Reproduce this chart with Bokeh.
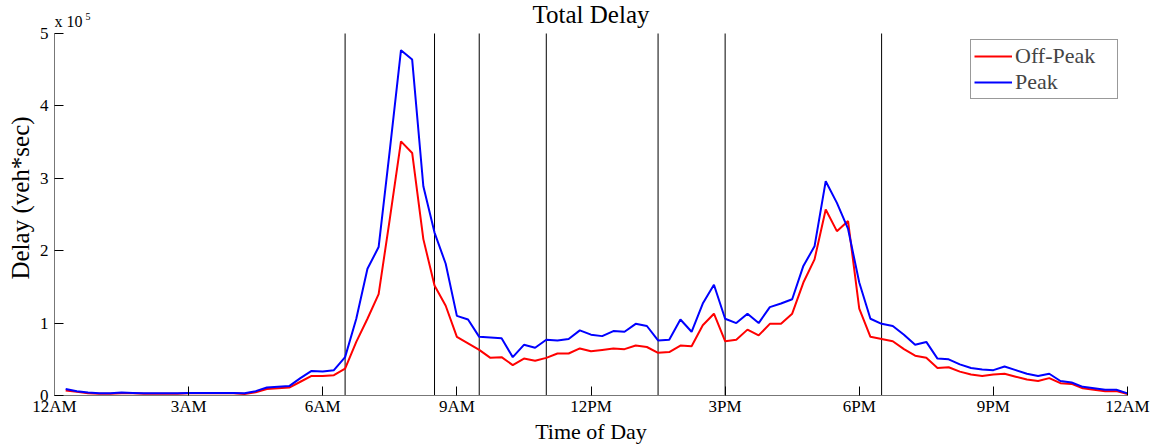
from bokeh.plotting import figure
from bokeh.models import Label, Legend, LegendItem, FixedTicker, CustomJSTickFormatter, ColumnDataSource
from bokeh.embed import file_html
from bokeh.resources import INLINE

hours = [0.25 * i for i in range(1, 97)]

peak = [0.09, 0.06, 0.04, 0.03, 0.03, 0.04, 0.035, 0.03, 0.03, 0.03, 0.03, 0.035,
        0.035, 0.035, 0.035, 0.035, 0.03, 0.06, 0.11, 0.12, 0.13, 0.24, 0.34, 0.33,
        0.35, 0.53, 1.06, 1.75, 2.05, 3.39, 4.77, 4.64, 2.89, 2.25, 1.82, 1.10,
        1.05, 0.81, 0.80, 0.79, 0.53, 0.70, 0.66, 0.77, 0.76, 0.78, 0.90, 0.84,
        0.82, 0.89, 0.88, 0.99, 0.96, 0.76, 0.77, 1.05, 0.88, 1.27, 1.53, 1.06,
        1.00, 1.13, 1.00, 1.22, 1.27, 1.33, 1.79, 2.06, 2.96, 2.66, 2.30, 1.56,
        1.06, 0.99, 0.96, 0.84, 0.70, 0.74, 0.51, 0.50, 0.43, 0.38, 0.36, 0.35,
        0.40, 0.35, 0.30, 0.27, 0.30, 0.20, 0.18, 0.12, 0.10, 0.08, 0.08, 0.03]

offpeak = [0.07, 0.05, 0.03, 0.025, 0.025, 0.03, 0.03, 0.025, 0.025, 0.025, 0.025, 0.03,
           0.03, 0.03, 0.03, 0.03, 0.02, 0.045, 0.09, 0.10, 0.11, 0.19, 0.27, 0.27,
           0.28, 0.37, 0.74, 1.06, 1.40, 2.44, 3.51, 3.35, 2.16, 1.52, 1.24, 0.81,
           0.72, 0.63, 0.52, 0.53, 0.42, 0.51, 0.48, 0.52, 0.58, 0.58, 0.65, 0.61,
           0.63, 0.65, 0.64, 0.69, 0.67, 0.59, 0.60, 0.69, 0.68, 0.97, 1.13, 0.75,
           0.77, 0.91, 0.83, 0.99, 0.99, 1.13, 1.56, 1.88, 2.57, 2.27, 2.41, 1.20,
           0.81, 0.78, 0.75, 0.64, 0.55, 0.52, 0.38, 0.39, 0.33, 0.29, 0.27, 0.29,
           0.30, 0.26, 0.22, 0.20, 0.24, 0.17, 0.16, 0.10, 0.08, 0.06, 0.06, 0.02]

peak = [v * 1e5 for v in peak]
offpeak = [v * 1e5 for v in offpeak]

boundaries = [6.5, 8.5, 9.5, 11, 13.5, 15, 18.5]
x_ticks = [0, 3, 6, 9, 12, 15, 18, 21, 24]
x_tick_labels = ["12AM", "3AM", "6AM", "9AM", "12PM", "3PM", "6PM", "9PM", "12AM"]
y_ticks = [0, 1e5, 2e5, 3e5, 4e5, 5e5]
y_max = 5e5

FONT = "Liberation Serif"

# frame spans the full top of the figure; the data area ends at y_max (33 px below the top)
y_top = y_max * 395 / 362

p = figure(width=1156, height=446, output_backend="svg", toolbar_location=None,
           title=None, x_range=(0, 24), y_range=(0, y_top),
           min_border_left=54, min_border_right=29, min_border_top=0, min_border_bottom=49)
p.outline_line_color = None
p.grid.visible = False

src = ColumnDataSource(dict(h=hours, peak=peak, off=offpeak))
bsrc = ColumnDataSource(dict(x=boundaries, y0=[0] * len(boundaries), y1=[y_max] * len(boundaries)))
p.segment(x0="x", y0="y0", x1="x", y1="y1", source=bsrc, line_color="black", line_width=1)

r_off = p.line("h", "off", source=src, line_color="#ff0000", line_width=2)
r_peak = p.line("h", "peak", source=src, line_color="#0000ff", line_width=2)

p.xaxis.ticker = FixedTicker(ticks=x_ticks)
p.xaxis.major_label_overrides = {t: l for t, l in zip(x_ticks, x_tick_labels)}
p.yaxis.ticker = FixedTicker(ticks=y_ticks)
p.yaxis.bounds = (0, y_max)
p.yaxis.formatter = CustomJSTickFormatter(code="return (tick/1e5).toFixed(0);")

for ax in (p.xaxis[0], p.yaxis[0]):
    ax.axis_line_color = "#777777"
    ax.major_tick_line_color = "black"
    ax.major_tick_in = 9
    ax.major_tick_out = 0
    ax.minor_tick_line_color = None
    ax.major_label_text_font = FONT
    ax.major_label_text_font_size = "17px"
    ax.major_label_text_color = "black"
    ax.axis_label_text_font = FONT
    ax.axis_label_text_font_style = "normal"
    ax.axis_label_text_color = "black"

p.xaxis.axis_label = "Time of Day"
p.xaxis.axis_label_text_font_size = "22px"
p.xaxis.major_label_standoff = 1
p.xaxis.axis_label_standoff = 0

p.yaxis.axis_label = "Delay (veh*sec)"
p.yaxis.axis_label_text_font_size = "25px"
p.yaxis.major_label_standoff = 6
p.yaxis.axis_label_standoff = 3

p.add_layout(Label(x=12, y=y_max, text="Total Delay", y_offset=19, text_align="center",
                   text_baseline="middle", text_font=FONT, text_font_size="25px",
                   text_color="black"))
p.add_layout(Label(x=0, y=y_max, text="x 10", x_offset=0, y_offset=4, text_font=FONT,
                   text_font_size="16px", text_baseline="bottom", text_color="black"))
p.add_layout(Label(x=0, y=y_max, text="5", x_offset=31, y_offset=14, text_font=FONT,
                   text_font_size="10px", text_baseline="bottom", text_color="black"))

legend = Legend(items=[LegendItem(label="Off-Peak", renderers=[r_off]),
                       LegendItem(label="Peak", renderers=[r_peak])],
                location=(916, 296))
legend.label_text_font = FONT
legend.label_text_font_size = "22px"
legend.label_height = 20
legend.glyph_height = 20
legend.glyph_width = 38
legend.label_width = 99
legend.spacing = 0
legend.padding = 3
legend.margin = 0
legend.label_standoff = 3
legend.border_line_color = "#333333"
legend.border_line_width = 1
p.add_layout(legend)

open("out.html", "w").write(file_html(p, INLINE))
